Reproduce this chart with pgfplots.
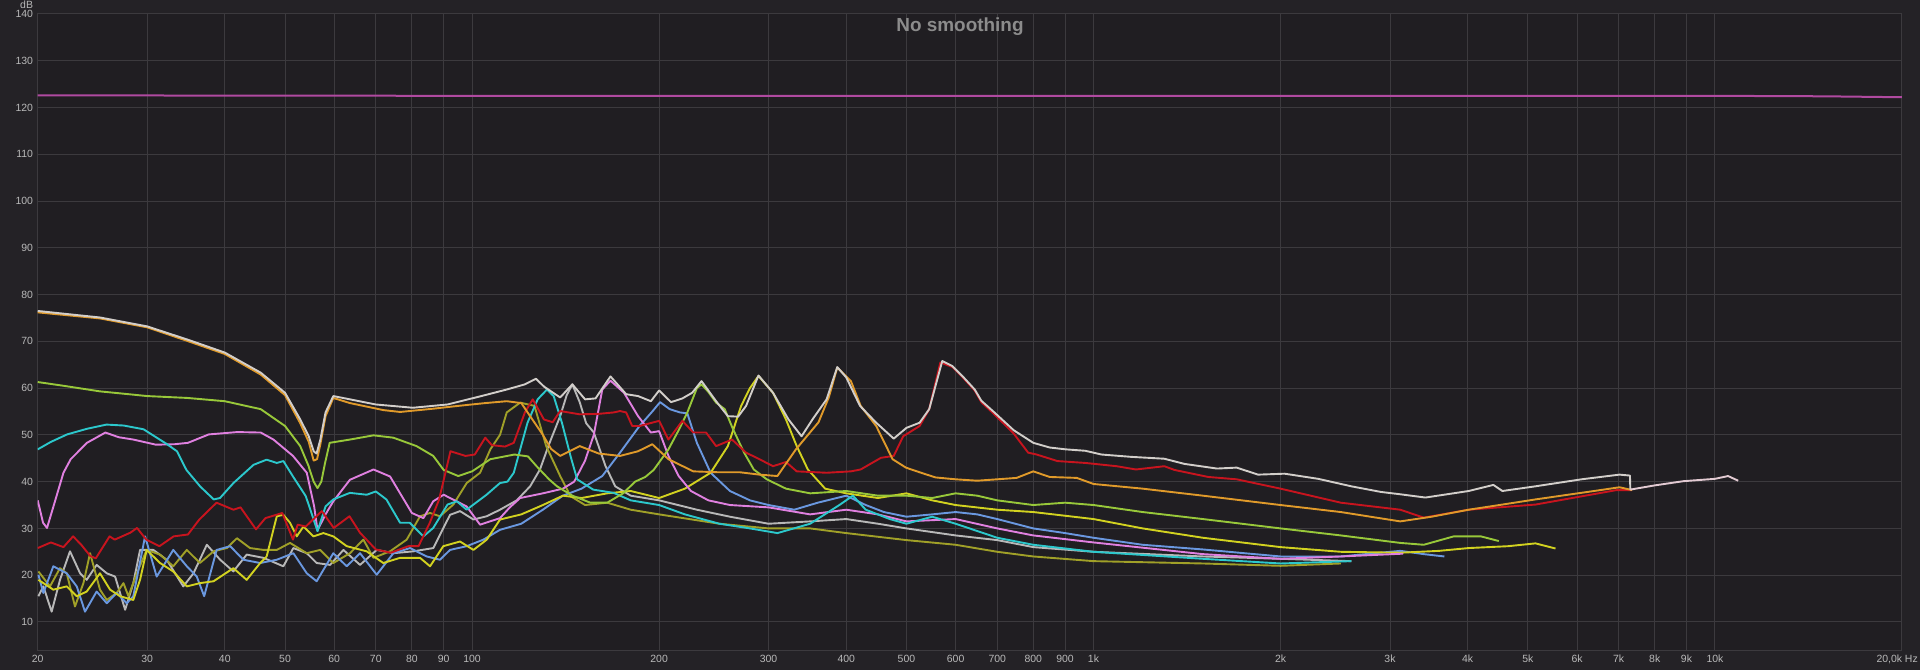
\documentclass[border=0pt]{standalone}
\usepackage{pgfplots}
\pgfplotsset{compat=1.18}
\usepackage{fontspec}
\setmainfont{Liberation Sans}
\definecolor{outerbg}{HTML}{242226}
\definecolor{plotbg}{HTML}{201E22}
\definecolor{gridc}{HTML}{3C3A3E}
\definecolor{labelc}{HTML}{B9B9B9}
\definecolor{titlec}{HTML}{8C8C8C}
\definecolor{cmag}{HTML}{B04AA0}
\definecolor{cwhite}{HTML}{D2CECA}
\definecolor{ctail}{HTML}{E2CAD2}
\definecolor{corange}{HTML}{E09A2A}
\definecolor{cred}{HTML}{C8141E}
\definecolor{clime}{HTML}{98C83A}
\definecolor{cyellow}{HTML}{D2D220}
\definecolor{colive}{HTML}{A0A028}
\definecolor{ccyan}{HTML}{2CC8CC}
\definecolor{cpink}{HTML}{E080E0}
\definecolor{cblue}{HTML}{6A98E0}
\definecolor{cgray}{HTML}{B8B8B8}
\begin{document}
\begin{tikzpicture}
\useasboundingbox (0,0) rectangle (1920bp,670bp);
\fill[outerbg] (0,0) rectangle (1920bp,670bp);
\begin{axis}[
  at={(37.7bp,20bp)}, anchor=south west,
  width=1864.3bp, height=636bp, scale only axis,
  xmode=log, xmin=20, xmax=20000, ymin=4, ymax=140,
  clip mode=individual,
  axis background/.style={fill=plotbg},
  grid=major, major grid style={draw=gridc, line width=1bp},
  axis line style={draw=gridc, line width=1bp},
  tick style={draw=none},
  xtick={20,30,40,50,60,70,80,90,100,200,300,400,500,600,700,800,900,1000,2000,3000,4000,5000,6000,7000,8000,9000,10000,20000},
  xticklabels={20,30,40,50,60,70,80,90,100,200,300,400,500,600,700,800,900,1k,2k,3k,4k,5k,6k,7k,8k,9k,10k,{}},
  ytick={10,20,30,40,50,60,70,80,90,100,110,120,130,140},
  yticklabels={10,20,30,40,50,60,70,80,90,100,110,120,130,140},
  tick label style={font=\fontsize{10.5}{12}\selectfont, text=labelc},
  yticklabel style={anchor=east, inner sep=0pt, xshift=-4.5bp},
  xticklabel style={anchor=north, inner sep=0pt, yshift=-5bp},
  every axis plot/.append style={line width=1.9bp, line join=round},
]
% magenta
\addplot[cmag, line width=2bp] coordinates {(20,122.6) (100,122.5) (1000,122.5) (10000,122.5) (15000,122.4) (20000,122.2)};
% gray
\addplot[cgray] coordinates {(20.05,15.5) (20.42,17.6) (21.06,12.2) (21.72,19) (22.54,25.1) (23.40,20.4) (23.98,19) (24.88,22.2) (25.83,20.4) (26.64,19.7) (27.65,12.6) (28.50,18.3) (29.22,25.4) (30.70,25.4) (32.25,23.3) (34.30,17.6) (35.62,20.4) (37.43,26.5) (39.33,23.3) (41.29,20.8) (43.38,24.4) (46.18,23.7) (49.69,21.9) (51.57,25.8) (54.2,24.7) (56.22,22.6) (59.09,22.2) (62.08,25.4) (66.03,22.2) (70.23,25.4) (74.72,24.7) (80.46,25.1) (86.63,25.8) (92.15,32.9) (95.63,33.7) (100.5,31.9) (105.6,32.6) (110.9,34) (118,36) (124,39) (128.6,42.6) (133,48) (138.6,54) (142,58.5) (145,60.8) (149,57) (152.6,52.5) (157,50.5) (164,43.3) (170,39) (180,37) (200,36) (230,34) (260,32.5) (300,31) (350,31.5) (400,32) (450,31) (500,30) (600,28.5) (700,27.5) (800,26) (1000,25) (1500,24) (2000,23.5) (2600,23)};
% olive
\addplot[colive] coordinates {(20.05,20.8) (20.93,17.6) (21.72,21.5) (22.27,20.4) (22.96,13.3) (23.69,18.3) (24.28,24.7) (25.19,16.9) (25.83,14.7) (26.80,16.2) (27.48,18.3) (27.99,15.5) (28.88,20.4) (29.95,25.4) (31.47,24.4) (33.05,21.9) (34.75,25.4) (36.48,22.6) (38.37,25.1) (40.31,25.8) (41.84,27.9) (43.92,25.8) (46.18,25.4) (48.5,25.4) (50.94,26.9) (54.2,24.7) (56.94,25.4) (59.80,22.6) (63.61,24.7) (66.85,27.6) (69.37,23.7) (73.8,25.1) (78.50,27.6) (82.47,32.6) (85.58,33.3) (88.77,32.6) (93.29,35.1) (98.02,39.7) (103,41.9) (107,46.9) (110.9,50) (113.7,54.8) (119.5,56.9) (126,56.2) (131.6,47.6) (138.6,41.2) (144,36.9) (152,35) (165,35.5) (180,34) (200,33) (250,31) (300,30) (350,30) (400,29) (500,27.5) (600,26.5) (700,25) (800,24) (1000,23) (1500,22.5) (2000,22) (2500,22.5)};
% blue
\addplot[cblue] coordinates {(20.05,20.1) (20.42,16.2) (21.19,21.9) (22.27,20.4) (23.11,17.6) (23.83,12.2) (24.88,16.5) (25.83,14.0) (26.80,16.2) (27.82,14.0) (28.50,15.5) (29.77,28.3) (31.08,19.7) (33.05,25.4) (34.75,21.9) (36.06,19.7) (37.06,15.5) (38.82,25.4) (40.81,26.2) (42.85,23.3) (45.61,22.6) (48.5,23.3) (51.57,24.7) (54.2,20.4) (56.22,18.7) (59.80,24.7) (62.85,21.9) (66.03,24.7) (70.23,20.1) (74.72,24.7) (79.47,25.8) (84.53,24.0) (88.77,23.3) (92.15,25.4) (98.02,26.2) (104.3,27.6) (110.9,29.7) (120,31) (130,34) (140,37) (150,38.5) (162,41.2) (173,46.2) (186,51.9) (195,55) (200.7,57) (208,55.5) (216,54.8) (222,54.6) (230,48.3) (242,41.9) (260,38) (280,36) (300,35) (330,34) (360,35.5) (400,37) (430,35) (460,33.5) (500,32.5) (550,33) (600,33.5) (650,33) (700,32) (800,30) (900,29) (1000,28) (1200,26.5) (1500,25.5) (2000,24) (2500,24) (3116,25.2) (3400,24.5) (3670,24)};
% yellow
\addplot[cyellow] coordinates {(20.05,19) (21.19,16.9) (22.27,17.6) (23.11,15.5) (23.98,16.5) (25.19,20.4) (26.15,16.9) (27.14,15.5) (28.50,14.7) (29.22,19) (29.95,25.4) (31.47,22.6) (33.05,20.8) (34.75,17.6) (36.48,18.3) (38.37,18.7) (41.29,21.5) (43.38,19) (45.61,22.6) (46.71,24) (48.5,32.6) (49.69,32.9) (50.94,31.2) (52.22,28.3) (53.53,30.4) (55.55,28.3) (57.65,29) (59.80,28.3) (62.85,26.2) (67.66,25.1) (71.97,22.6) (76.56,23.7) (82.47,23.7) (85.58,21.9) (89.88,26.2) (95.63,27.2) (100.5,25.4) (105.6,27.6) (110.9,31.9) (120,33) (130,35) (140,37) (150,36.5) (165,37.5) (180,38) (200,36.5) (220,38.5) (242,41.9) (258,47.6) (271,56.2) (280,60) (289,62.6) (305,59) (320,53.3) (333,47.6) (347,42.6) (370,38.5) (400,37.5) (450,36.5) (500,37.5) (550,36) (600,35) (700,34) (800,33.5) (1000,32) (1200,30) (1500,28) (2000,26) (2500,25) (3116,24.8) (3600,25.2) (4016,25.8) (4650,26.2) (5143,26.8) (5540,25.7)};
% pink
\addplot[cpink] coordinates {(20,36) (20.4,31.2) (20.7,30.1) (21.2,34.7) (22,41.9) (22.6,44.8) (24,48.3) (25.7,50.5) (27,49.5) (28.5,49) (31,47.9) (33.2,48) (34.9,48.3) (37.7,50.1) (41.9,50.6) (45.7,50.5) (47.9,49) (51.5,45.5) (54.2,41.9) (55.7,34.7) (56.4,29.6) (58.1,33) (59.8,35.8) (63.6,40.4) (69.4,42.6) (73.8,41.1) (80,33.3) (83.5,32.2) (86.6,35.8) (90,37.2) (98,34.7) (103,30.8) (110.9,32.2) (115,34.5) (119.5,36.5) (130,37.5) (140,38.5) (146,40) (152,44.5) (157,50) (162,59.7) (167,61.6) (175.6,59) (185,54) (194,50.5) (200,50.8) (207,45.5) (215,41.2) (225,38) (240,36) (260,35) (300,34.5) (350,33) (400,34) (450,33) (500,31.5) (600,32) (700,30) (800,28.5) (1000,27) (1500,24.5) (2000,23.5) (2500,24) (3150,24.6)};
% cyan
\addplot[ccyan] coordinates {(20,46.9) (21,48.5) (22.3,50.1) (24,51.3) (25.8,52.2) (27.5,52) (29.6,51.2) (32.3,48) (33.5,46.5) (34.7,42.5) (36.5,39) (38.4,36.2) (39.3,36.5) (41.3,39.7) (44.5,43.6) (46.7,44.7) (48.5,44) (49.7,44.4) (51.5,41.1) (54,36.9) (55.5,32.2) (56.4,29.4) (58.1,34.7) (59.8,36.2) (63.6,37.6) (67.7,37.2) (70,37.9) (72.8,36.2) (76.6,31.2) (79.4,31.2) (83.5,28.3) (86.6,30.1) (91.3,35.1) (94.5,35.8) (98,34) (105.5,37.2) (110.9,39.7) (114,40) (116.7,41.9) (122.8,52.6) (127.5,57.6) (132,59.7) (135.3,58.3) (139.5,52.6) (144,45.5) (147.6,40.5) (156.6,38.3) (169,37.6) (180,36) (200,35) (220,33) (250,31) (280,30) (310,29) (350,31) (390,35) (410,37) (430,34) (470,32) (500,31) (550,32.5) (600,31) (700,28) (800,26.5) (1000,25) (1500,23.5) (2000,22.5) (2600,23)};
% lime
\addplot[clime] coordinates {(20,61.3) (22,60.5) (25.2,59.3) (28,58.7) (30,58.3) (34.8,57.9) (40,57.2) (45.7,55.5) (50,51.9) (52.9,47.6) (54.5,43.5) (55.6,40) (56.4,38.6) (57.2,40) (58,44) (59,48.3) (63.6,49) (69.4,49.9) (74.7,49.4) (81.4,47.6) (86.6,45.5) (90,42.5) (95,41.2) (100,42.2) (107,44.8) (117,45.8) (123,45.4) (127,43.3) (133,40.5) (137,39) (145,37) (155,35.5) (165,35.5) (175,37.5) (183,40) (190,41) (196,42.5) (207,46.9) (215,51) (222,54.8) (230,60) (234,60.8) (240,59.2) (247,56.9) (255,55.5) (263,51.2) (274,46.2) (284,42.6) (298,40.5) (320,38.5) (350,37.5) (400,38) (450,37) (500,37) (550,36.5) (600,37.5) (650,37) (700,36) (800,35) (900,35.5) (1000,35) (1200,33.5) (1500,32) (2000,30) (2500,28.5) (3116,26.9) (3400,26.5) (3800,28.3) (4200,28.3) (4490,27.3)};
% red
\addplot[cred] coordinates {(20,25.8) (21,27) (22,26) (22.8,28.3) (23.5,26.5) (24.3,24.1) (24.8,23.6) (26.1,28.3) (26.6,27.6) (28.2,29.1) (28.9,30.1) (29.9,27.6) (31.4,26.2) (33.1,28.3) (34.9,28.7) (36.4,31.9) (38.8,35.5) (41.3,34) (42.4,34.5) (44.9,29.8) (46.5,32.2) (49.5,33.3) (51.5,27.6) (52.4,30.8) (54,30.4) (57.3,33.7) (59.9,30.1) (63.5,32.6) (66,29.1) (70,25.5) (74,24.8) (79,26.2) (82,26.2) (85.5,31.2) (88.5,36.2) (92.3,46.5) (97.6,45.5) (101,45.8) (105,49.4) (107.6,47.8) (113,47.5) (116.7,48.3) (121.6,54.8) (125.2,57.6) (130.5,53.3) (134.8,52.7) (138.6,55.1) (149,54.4) (160,54.5) (169,54.8) (173,55.1) (177,54.8) (181,51.9) (186,51.9) (200,53) (207,49) (218,53) (227,50.5) (238,50.5) (247,47.6) (262,49) (276,46.2) (290,44.8) (305,43.3) (320,44.2) (333,42.2) (372,41.9) (407,42.2) (422,42.6) (455,45.1) (477,45.5) (494,49.7) (525,51.9) (544,55.5) (567,65.5) (593,64.5) (615,62.4) (644,59.5) (660,57) (690,54.6) (744,50.3) (785,46.2) (810,45.8) (875,44.4) (970,44) (1090,43.3) (1170,42.6) (1300,43.3) (1350,42.5) (1530,41) (1700,40.5) (2000,38.5) (2500,35.5) (3116,34) (3400,32.3) (4016,34) (5143,35.1) (6950,38.2) (7360,38.2)};
% orange
\addplot[corange] coordinates {(20,76.2) (25.2,74.9) (30,73) (34.8,70.1) (40,67.3) (45.7,62.9) (50,58.5) (52.9,52.5) (54.6,48.5) (55.6,44.5) (56.3,44.8) (57,48) (58.1,54) (59.8,57.9) (63.6,56.8) (72,55.3) (76.6,54.9) (86.6,55.6) (95,56.2) (105,56.8) (113.7,57.2) (120,56.8) (124,54) (130,50) (134,47) (138.6,45.5) (149,47.6) (160,46) (173,45.5) (185,46.5) (195,48) (207,44.8) (227,42.2) (250,42) (270,42) (290,41.5) (310,41.2) (332,46.9) (361,52.7) (375,58) (387,64.4) (407,61.5) (422,56.2) (447,51.9) (475,44.8) (499,43) (525,42) (557,40.9) (600,40.5) (650,40.2) (700,40.5) (752,40.8) (800,42.2) (850,41) (940,40.8) (1000,39.5) (1200,38.5) (1500,37) (2000,35) (2500,33.5) (3116,31.5) (3500,32.5) (4016,34) (4500,35) (5143,36.2) (6545,38.2) (7020,38.8) (7360,38.2)};
% white (top)
\addplot[cwhite] coordinates {(20,76.5) (25.2,75.1) (30,73.2) (34.8,70.4) (40,67.6) (45.7,63.3) (50,59) (52.9,53.3) (54.6,49.7) (55.6,46.5) (56.2,46) (57,49) (58.1,54.8) (59.8,58.3) (63.6,57.6) (70,56.5) (80.3,55.8) (91.3,56.5) (103.5,58.3) (113.7,59.7) (121.6,60.8) (126.7,62) (130.6,60.3) (138.6,58) (145,60.8) (152,57.6) (158,57.8) (167,62.5) (177,58.7) (185,58.3) (194,57.2) (200,59.5) (209,57) (218,57.8) (226,59) (234,61.5) (247,57.2) (258,54) (268,53.9) (276,56.2) (289,62.7) (305,59) (323,53.3) (339,49.7) (353,53.3) (372,57.6) (387,64.5) (400,62.3) (421,56.2) (447,52.6) (477,49.2) (500,51.5) (525,52.6) (544,55.5) (571,65.8) (593,64.7) (615,62.6) (644,59.7) (660,57.3) (690,55) (744,51) (800,48.3) (850,47.3) (903,46.9) (970,46.6) (1030,45.8) (1150,45.3) (1300,44.9) (1400,43.8) (1580,42.8) (1700,43) (1840,41.5) (2030,41.7) (2300,40.6) (2600,39) (2900,37.8) (3116,37.3) (3420,36.6) (4016,38) (4400,39.3) (4550,38) (5140,39) (6100,40.5) (7020,41.5) (7300,41.3) (7310,38.3)};
% tail
\addplot[ctail] coordinates {(7310,38.3) (8000,39.2) (8900,40.1) (10000,40.6) (10500,41.2) (10900,40.2)};
\node[anchor=base, text=titlec, font=\bfseries\fontsize{19}{22}\selectfont, inner sep=0pt] at (rel axis cs:0.4947,1) [yshift=-18bp] {No smoothing};
\node[anchor=south east, text=labelc, font=\fontsize{10.5}{12}\selectfont, inner sep=0pt] at (rel axis cs:0,1) [xshift=-4.5bp, yshift=5bp] {dB};
\node[anchor=north east, text=labelc, font=\fontsize{10.5}{12}\selectfont, inner sep=0pt] at (rel axis cs:1,0) [xshift=16bp, yshift=-5bp] {20,0k Hz};
\end{axis}
\end{tikzpicture}
\end{document}
